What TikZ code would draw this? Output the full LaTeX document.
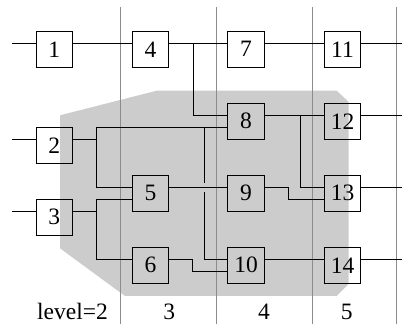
\documentclass[tikz,border=0pt]{standalone}
\usepackage{fontspec}
\setmainfont{Liberation Serif}
\usetikzlibrary{calc}
\definecolor{regiongray}{gray}{0.8}
\definecolor{sepline}{gray}{0.55}
\newcommand\mkcell[4]{%
  \node[cell] (#1) at (#2,#3) {#4};
  \coordinate (#1iu) at ([yshift=5.7pt]#1.west);
  \coordinate (#1id) at ([yshift=-6pt]#1.west);
  \coordinate (#1o) at ([yshift=5.7pt]#1.east);}
\begin{document}
\begin{tikzpicture}[x=1pt,y=1pt,
  cell/.style={draw,line width=1pt,minimum width=36.5pt,minimum height=36.5pt,inner sep=0pt,
    font=\rmfamily\fontsize{23.5}{28}\selectfont},
  wire/.style={line width=1pt},
  sep/.style={draw=sepline,line width=0.8pt},
  lbl/.style={anchor=base,inner sep=0pt,font=\rmfamily\fontsize{23.5}{28}\selectfont}]
\useasboundingbox (0,0) rectangle (402,324);
% shaded region
\fill[fill=regiongray] (60,208.7) -- (156.7,233.3) -- (336.7,233.3) -- (348.7,222) -- (348.7,40)
  -- (336.7,28) -- (125,28) -- (60,75.7) -- cycle;
% level separators
\foreach \x in {120.3,216.3,312.3,396.3} \draw[sep] (\x,316.7) -- (\x,0);
% helper coordinates
\coordinate (L) at (12,0);
\coordinate (R) at (402,0);
\coordinate (b1) at (96.3,0);
\coordinate (b2) at (193.3,0);
\coordinate (b3) at (204.3,0);
\coordinate (b4) at (192.3,0);
\coordinate (b5) at (288.3,0);
\coordinate (b6) at (300.7,0);
% cells
\mkcell{n1}{54.3}{274.7}{1}
\mkcell{n2}{54.3}{178.5}{2}
\mkcell{n3}{54.3}{106.7}{3}
\mkcell{n4}{150.6}{274.7}{4}
\mkcell{n5}{150.6}{130.7}{5}
\mkcell{n6}{150.6}{58.7}{6}
\mkcell{n7}{246}{274.7}{7}
\mkcell{n8}{246}{202.7}{8}
\mkcell{n9}{246}{130.7}{9}
\mkcell{n10}{246}{58.7}{10}
\mkcell{n11}{342.5}{274.7}{11}
\mkcell{n12}{342.5}{202.7}{12}
\mkcell{n13}{342.5}{130.7}{13}
\mkcell{n14}{342.5}{58.7}{14}
% wires
\draw[wire] (n1iu -| L) -- (n1iu);
\draw[wire] (n2iu -| L) -- (n2iu);
\draw[wire] (n3iu -| L) -- (n3iu);
\draw[wire] (n1o) -- (n4iu);
\draw[wire] (n4o) -- (n7iu);
\draw[wire] (n7o) -- (n11iu);
\draw[wire] (n11o) -- (n11o -| R);
\draw[wire] (n4o -| b2) |- (n8iu);
\draw[wire] (n2o) -| (b1 |- n8id) -- (n8id);
\draw[wire] (b1 |- n2o) |- (n5iu);
\draw[wire] (n3o) -| (b1 |- n5id) -- (n5id);
\draw[wire] (b1 |- n3o) |- (n6iu);
\draw[wire] (n5o) -- (n9iu);
\draw[wire] (b3 |- n8id) -- ($(b3 |- n5o)+(0,4.8)$);
\draw[wire] ($(b3 |- n5o)+(0,-4.8)$) |- (n10iu);
\draw[wire] (n6o) -| (b4 |- n10id) -- (n10id);
\draw[wire] (n8o) -- (n12iu);
\draw[wire] (b6 |- n8o) |- (n13iu);
\draw[wire] (n9o) -| (b5 |- n13id) -- (n13id);
\draw[wire] (n10o) -- (n14iu);
\draw[wire] (n12o) -- (n12o -| R);
\draw[wire] (n13o) -- (n13o -| R);
\draw[wire] (n14o) -- (n14o -| R);
% level labels
\node[lbl] (lv2) at (72.5,4.7) {level=2};
\node[lbl] (lv3) at (169.3,4.7) {3};
\node[lbl] (lv4) at (264,4.7) {4};
\node[lbl] (lv5) at (346.7,4.7) {5};
\end{tikzpicture}
\end{document}
